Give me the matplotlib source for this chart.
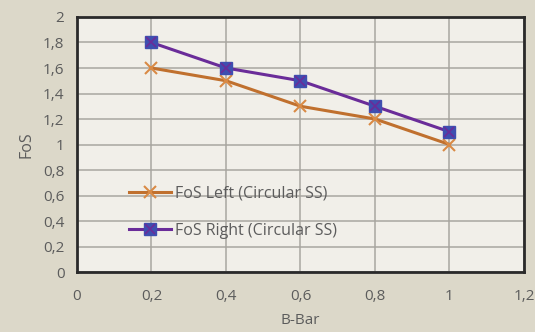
import matplotlib
matplotlib.use("Agg")
import matplotlib.pyplot as plt
from matplotlib.lines import Line2D

b_bar = [0.2, 0.4, 0.6, 0.8, 1.0]
fos_left = [1.6, 1.5, 1.3, 1.2, 1.0]
fos_right = [1.8, 1.6, 1.5, 1.3, 1.1]
x_ticks = [0, 0.2, 0.4, 0.6, 0.8, 1, 1.2]
y_ticks = [0, 0.2, 0.4, 0.6, 0.8, 1, 1.2, 1.4, 1.6, 1.8, 2]
label_left = "FoS Left (Circular SS)"
label_right = "FoS Right (Circular SS)"

def fmt(v):
    s = f"{v:g}"
    return s.replace(".", ",")

plt.rcParams['font.family'] = ['Open Sans', 'DejaVu Sans']

fig = plt.figure(figsize=(5.35, 3.32), dpi=100)
fig.patch.set_facecolor("#DCD8C9")
ax = fig.add_axes([0.1439, 0.1807, 0.8355, 0.7681])
ax.set_facecolor("#F1EFE9")

orange = "#C0702E"
purple = "#6A2C99"
marker_blue = "#3E4FB0"
text_grey = "#5C5C5C"

ax.plot(b_bar, fos_left, color=orange, lw=2.2, marker="x", ms=8, mew=1.5,
        mec="#D98A45", zorder=3)
ax.plot(b_bar, fos_right, color=purple, lw=2.2, marker="s", ms=8,
        mfc=marker_blue, mec=marker_blue, zorder=3)
ax.plot(b_bar, fos_right, ls="none", marker="x", ms=7, mew=1.2,
        mec=purple, zorder=4)

ax.set_xlim(0, 1.2)
ax.set_ylim(0, 2)
ax.set_xticks(x_ticks)
ax.set_yticks(y_ticks)
ax.set_xticklabels([fmt(v) for v in x_ticks])
ax.set_yticklabels([fmt(v) for v in y_ticks])
ax.grid(True, color="#A8A6A0", lw=1.1)
ax.set_axisbelow(True)
ax.tick_params(axis="x", length=0, labelsize=11, colors=text_grey, pad=12)
ax.tick_params(axis="y", length=0, labelsize=11, colors=text_grey, pad=9)
for sp in ax.spines.values():
    sp.set_color("#2A2A2A")
    sp.set_linewidth(2)

ax.set_xlabel("B-Bar", fontsize=11, color=text_grey, labelpad=7)
ax.set_ylabel("FoS", fontsize=11.5, color=text_grey, labelpad=6)

handles = [
    (Line2D([0], [0], color=orange, lw=2.2, marker="x", ms=8, mew=1.5, mec="#D98A45")),
    (Line2D([0], [0], color=purple, lw=2.2, marker="s", ms=8, mfc=marker_blue, mec=marker_blue),
     Line2D([0], [0], ls="none", marker="x", ms=7, mew=1.2, mec=purple)),
]
leg = ax.legend(handles, [label_left, label_right], loc="lower left",
                bbox_to_anchor=(0.085, 0.075), frameon=False, fontsize=11.5,
                handlelength=2.6, handletextpad=0.25, labelspacing=1.3)
for t in leg.get_texts():
    t.set_color(text_grey)

fig.savefig("out.png", dpi=100, facecolor=fig.get_facecolor())
